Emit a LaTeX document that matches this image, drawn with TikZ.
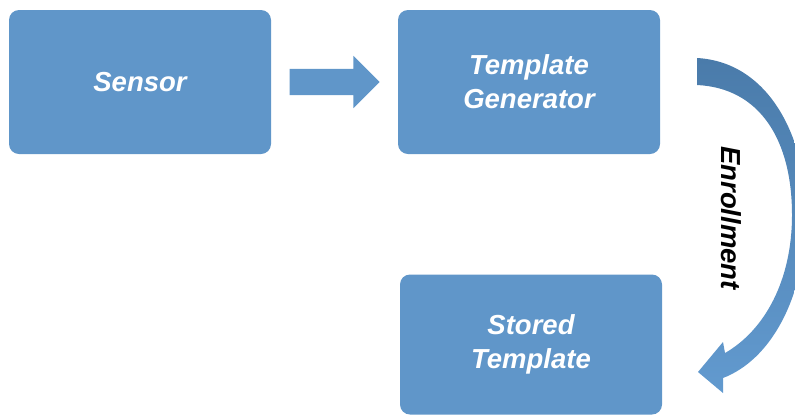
\documentclass[tikz,border=0pt]{standalone}
\usepackage{fontspec}
\setmainfont{Liberation Sans}
\usetikzlibrary{shapes.arrows}
\definecolor{BoxBlue}{HTML}{6096C9}
\definecolor{BendTop}{HTML}{4A7BAA}
\definecolor{BendLow}{HTML}{629ACF}

\begin{document}
\begin{tikzpicture}[x=1pt, y=-1pt, node distance=262pt,
  every node/.style={font=\fontsize{27.5}{34}\selectfont\bfseries\itshape}]
  \tikzstyle{stage}=[rectangle, rounded corners=10pt, fill=BoxBlue, text=white,
  minimum width=262pt, minimum height=144pt, align=center]
  \useasboundingbox (0,0) rectangle (795,416);
  \node[stage] (sensor) at (140,82) {Sensor};
  \node[stage, right of=sensor, xshift=127pt] (gen) {Template\\Generator};
  \node[stage, below of=gen, xshift=2pt, yshift=-0.5pt, minimum height=140pt] (stored) {Stored\\Template};
  \node[single arrow, fill=BoxBlue, inner sep=13pt, minimum height=90pt,
  single arrow head extend=13pt, right of=sensor, xshift=-74pt] (flow) {};
  % bent arrow on the right
  \shade[top color=BendTop, bottom color=BendLow]
    (697,58) .. controls (770,62) and (808,140) .. (806,220)
    .. controls (804,300) and (770,360) .. (723,378)
    -- (723,393) -- (698,372) -- (723,342) -- (725,353)
    .. controls (765,330) and (792,280) .. (792,215)
    .. controls (792,140) and (760,88) .. (697,85) -- cycle;
  \node[rotate=-90] (enrol) at (731,218) {Enrollment};
\end{tikzpicture}
\end{document}
